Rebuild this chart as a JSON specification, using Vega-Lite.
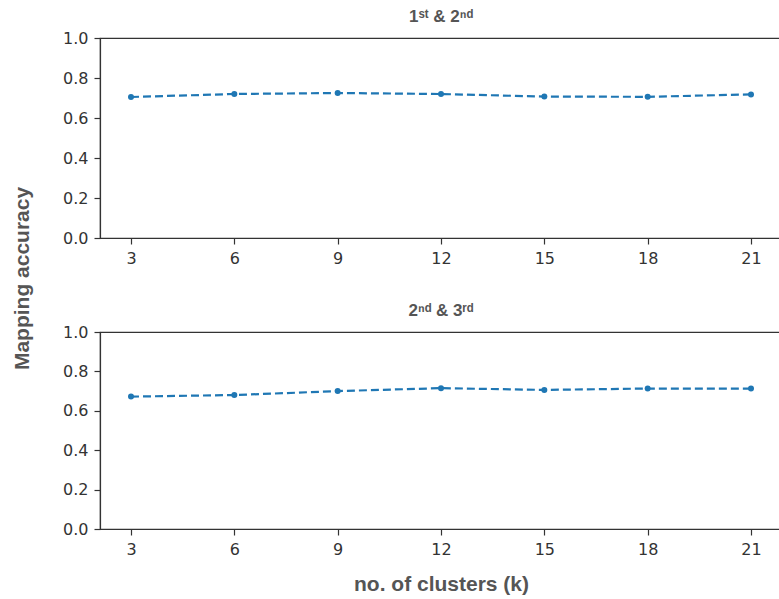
{
  "$schema": "https://vega.github.io/schema/vega-lite/v6.json",
  "padding": {"left": 10, "top": 7, "right": 0, "bottom": 0},
  "background": "white",
  "bounds": "flush",
  "config": {
    "view": {"stroke": "#333333", "strokeWidth": 1.2},
    "font": "Liberation Sans",
    "axis": {
      "grid": false,
      "domainColor": "#333333",
      "domainWidth": 1.2,
      "tickColor": "#333333",
      "tickWidth": 1.2,
      "labelColor": "#333333",
      "labelFont": "DejaVu Sans",
      "labelFontSize": 16,
      "tickSize": 6,
      "labelPadding": 6,
      "titleColor": "#555555",
      "titleFontWeight": "bold",
      "titleFontSize": 21
    },
    "title": {"fontSize": 17, "fontWeight": "bold", "color": "#555555", "offset": 4}
  },
  "data": {"values": [
    {"pair": "a", "k": 3, "acc": 0.705},
    {"pair": "a", "k": 6, "acc": 0.72},
    {"pair": "a", "k": 9, "acc": 0.725},
    {"pair": "a", "k": 12, "acc": 0.72},
    {"pair": "a", "k": 15, "acc": 0.707},
    {"pair": "a", "k": 18, "acc": 0.706},
    {"pair": "a", "k": 21, "acc": 0.718},
    {"pair": "b", "k": 3, "acc": 0.672},
    {"pair": "b", "k": 6, "acc": 0.68},
    {"pair": "b", "k": 9, "acc": 0.70},
    {"pair": "b", "k": 12, "acc": 0.715},
    {"pair": "b", "k": 15, "acc": 0.706},
    {"pair": "b", "k": 18, "acc": 0.713},
    {"pair": "b", "k": 21, "acc": 0.713}
  ]},
  "spacing": 94,
  "vconcat": [
    {
      "title": "1ˢᵗ & 2ⁿᵈ",
      "width": 682,
      "height": 200,
      "transform": [{"filter": "datum.pair === 'a'"}],
      "encoding": {
        "x": {"field": "k", "type": "quantitative",
              "scale": {"domain": [2.1, 21.9], "nice": false, "zero": false},
              "axis": {"values": [3, 6, 9, 12, 15, 18, 21], "title": null}},
        "y": {"field": "acc", "type": "quantitative",
              "scale": {"domain": [0, 1], "nice": false},
              "axis": {"values": [0, 0.2, 0.4, 0.6, 0.8, 1.0], "format": ".1f", "title": "Mapping accuracy", "titleY": 240, "titlePadding": 30}}
      },
      "layer": [
        {"mark": {"type": "line", "color": "#1f77b4", "strokeWidth": 2.2, "strokeDash": [8, 4]}},
        {"mark": {"type": "point", "filled": true, "color": "#1f77b4", "size": 36, "opacity": 1}}
      ]
    },
    {
      "title": "2ⁿᵈ & 3ʳᵈ",
      "width": 682,
      "height": 197,
      "transform": [{"filter": "datum.pair === 'b'"}],
      "encoding": {
        "x": {"field": "k", "type": "quantitative",
              "scale": {"domain": [2.1, 21.9], "nice": false, "zero": false},
              "axis": {"values": [3, 6, 9, 12, 15, 18, 21], "title": "no. of clusters (k)", "titlePadding": 16}},
        "y": {"field": "acc", "type": "quantitative",
              "scale": {"domain": [0, 1], "nice": false},
              "axis": {"values": [0, 0.2, 0.4, 0.6, 0.8, 1.0], "format": ".1f", "title": null}}
      },
      "layer": [
        {"mark": {"type": "line", "color": "#1f77b4", "strokeWidth": 2.2, "strokeDash": [8, 4]}},
        {"mark": {"type": "point", "filled": true, "color": "#1f77b4", "size": 36, "opacity": 1}}
      ]
    }
  ]
}
